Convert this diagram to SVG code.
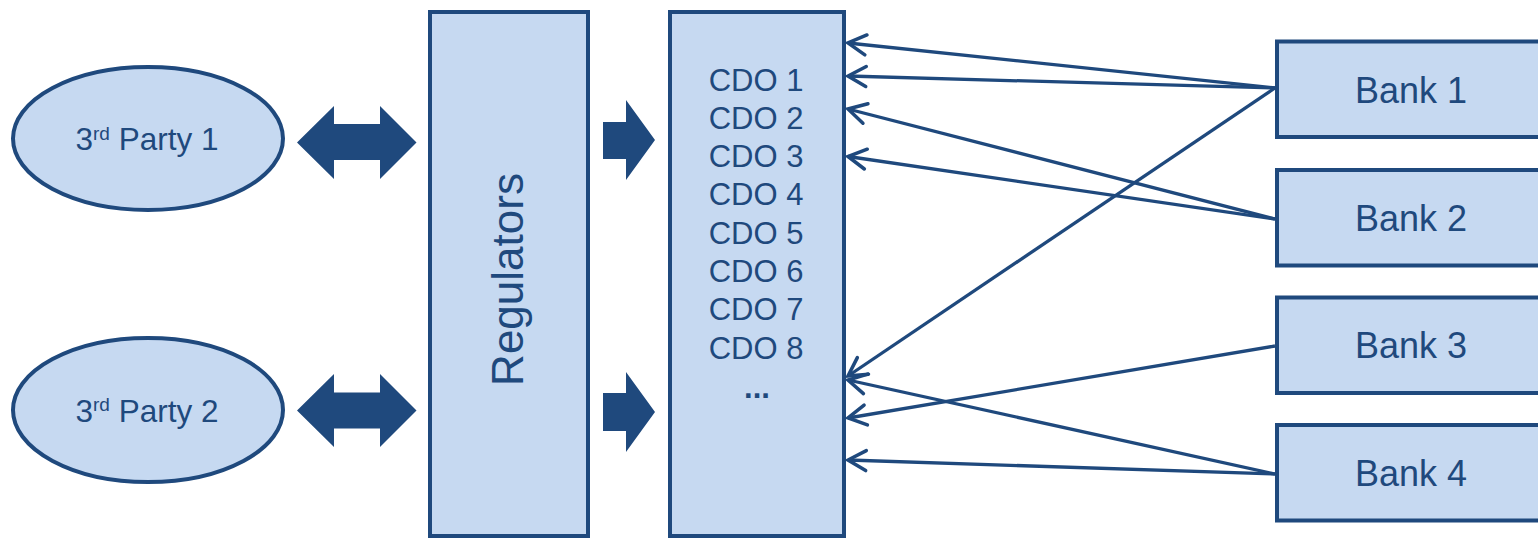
<svg xmlns="http://www.w3.org/2000/svg" width="1538" height="539" viewBox="0 0 1538 539">
<style>
.box{fill:#C6D9F1;stroke:#1F497D;stroke-width:4}
.blk{fill:#1F497D;stroke:none}
.t{font-family:"Liberation Sans",Arial,sans-serif;fill:#1F497D;text-anchor:middle}
.c{fill:none;stroke:#1F497D;stroke-width:3.3}
</style>
<defs>
<marker id="ah" markerUnits="userSpaceOnUse" markerWidth="40" markerHeight="40" refX="0" refY="0" viewBox="-20 -20 40 40" orient="auto" overflow="visible">
<path d="M -18 -10 L 0 0 L -18 10" fill="none" stroke="#1F497D" stroke-width="3.5" stroke-linecap="round" stroke-linejoin="miter"/>
</marker>
</defs>
<rect width="1538" height="539" fill="#FFFFFF"/>
<g id="party1">
<ellipse class="box" cx="148" cy="138.5" rx="135" ry="71.5"/>
<text class="t" x="147" y="150" font-size="31.5">3<tspan font-size="19" dy="-10.5">rd</tspan><tspan dy="10.5"> Party 1</tspan></text>
</g>
<g id="party2">
<ellipse class="box" cx="148" cy="410" rx="135" ry="72"/>
<text class="t" x="147" y="421.5" font-size="31.5">3<tspan font-size="19" dy="-10.5">rd</tspan><tspan dy="10.5"> Party 2</tspan></text>
</g>
<g id="regulators">
<rect class="box" x="430" y="12" width="158" height="524"/>
<text class="t" font-size="44" transform="translate(523,279.5) rotate(-90)">Regulators</text>
</g>
<g id="cdos">
<rect class="box" x="670" y="12" width="174" height="524"/>
<g class="t" font-size="31">
<text x="756" y="90.5">CDO 1</text>
<text x="756" y="128.8">CDO 2</text>
<text x="756" y="167.1">CDO 3</text>
<text x="756" y="205.4">CDO 4</text>
<text x="756" y="243.7">CDO 5</text>
<text x="756" y="282">CDO 6</text>
<text x="756" y="320.3">CDO 7</text>
<text x="756" y="358.6">CDO 8</text>
<text x="757" y="397.5" font-weight="bold">...</text>
</g>
</g>
<g id="bank1">
<rect class="box" x="1277" y="41.5" width="290" height="95.5"/>
<text class="t" x="1411" y="103" font-size="36">Bank 1</text>
</g>
<g id="bank2">
<rect class="box" x="1277" y="170" width="290" height="95.5"/>
<text class="t" x="1411" y="230.7" font-size="36">Bank 2</text>
</g>
<g id="bank3">
<rect class="box" x="1277" y="297.5" width="290" height="95.5"/>
<text class="t" x="1411" y="358" font-size="36">Bank 3</text>
</g>
<g id="bank4">
<rect class="box" x="1277" y="425" width="290" height="95.5"/>
<text class="t" x="1411" y="486" font-size="36">Bank 4</text>
</g>
<g id="connectors">
<polygon class="blk" points="297,142.5 334,106 334,124 380,124 380,106 416.5,142.5 380,179 380,160 334,160 334,179"/>
<polygon class="blk" points="297,410.5 334,374 334,392.5 380,392.5 380,374 416.5,410.5 380,447 380,428.5 334,428.5 334,447"/>
<polygon class="blk" points="603,122 626,122 626,100 655,140 626,180 626,159 603,159"/>
<polygon class="blk" points="603,393 626,393 626,372 655,412 626,452 626,431 603,431"/>
<line class="c" x1="1275" y1="88" x2="848" y2="43" marker-end="url(#ah)"/>
<line class="c" x1="1275" y1="88" x2="848" y2="76" marker-end="url(#ah)"/>
<line class="c" x1="1275" y1="219" x2="848" y2="109" marker-end="url(#ah)"/>
<line class="c" x1="1275" y1="219" x2="848" y2="156.5" marker-end="url(#ah)"/>
<line class="c" x1="1275" y1="88" x2="848" y2="376" marker-end="url(#ah)"/>
<line class="c" x1="1275" y1="346" x2="848" y2="418" marker-end="url(#ah)"/>
<line class="c" x1="1275" y1="474" x2="848" y2="380" marker-end="url(#ah)"/>
<line class="c" x1="1275" y1="474" x2="848" y2="460" marker-end="url(#ah)"/>
</g>
</svg>
